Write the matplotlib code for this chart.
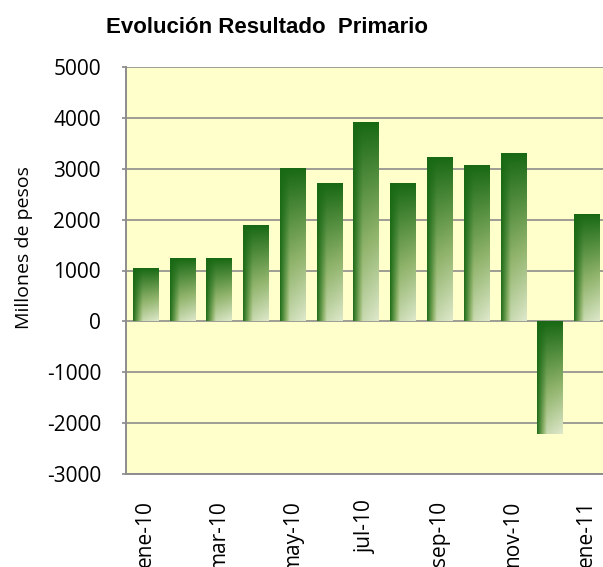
import matplotlib.pyplot as plt
import numpy as np
from matplotlib.colors import LinearSegmentedColormap

# datos
meses = ['ene-10', 'feb-10', 'mar-10', 'abr-10', 'may-10', 'jun-10', 'jul-10',
         'ago-10', 'sep-10', 'oct-10', 'nov-10', 'dic-10', 'ene-11']
resultado = [1030, 1220, 1220, 1880, 2990, 2700, 3900,
             2700, 3210, 3050, 3290, -2220, 2090]
yticks = [-3000, -2000, -1000, 0, 1000, 2000, 3000, 4000, 5000]

verde = LinearSegmentedColormap.from_list(
    'verde', [(0.0, '#196914'), (0.55, '#8fb36a'), (1.0, '#dfe9cc')])


def gradiente(n=200, m=60):
    v = np.linspace(0, 1, n)[:, None]   # 0 arriba, 1 abajo
    u = np.linspace(0, 1, m)[None, :]   # 0 izquierda, 1 derecha
    h = np.clip(0.05 + u * 2.5, 0, 1) * (0.8 + 0.2 * u)
    return v * h


fig = plt.figure(figsize=(6.03, 5.67), dpi=100)
ax = fig.add_axes([126 / 603, 1 - 474 / 567, 480 / 603, 407 / 567])
ax.set_facecolor('#ffffcc')

x = np.arange(len(meses))
barras = ax.bar(x, resultado, width=0.68, color='none', zorder=3)
img = gradiente()
for b in barras:
    x0 = b.get_x()
    x1 = x0 + b.get_width()
    y0 = b.get_y()
    y1 = y0 + b.get_height()
    top, bot = max(y0, y1), min(y0, y1)
    ax.imshow(img, cmap=verde, vmin=0, vmax=1, aspect='auto',
              extent=(x0, x1, bot, top), origin='upper', zorder=3,
              interpolation='bilinear')

ax.set_xlim(-0.525, len(meses) - 0.475)
ax.set_ylim(-3000, 5000)
ax.set_yticks(yticks)
ax.set_yticklabels([str(t) for t in yticks], fontsize=15, family='Open Sans')
ax.set_xticks(x[::2])
ax.set_xticklabels(meses[::2], rotation=90, fontsize=15, family='Open Sans',
                   va='top', ha='center')
ax.tick_params(axis='x', length=0, pad=19)
ax.tick_params(axis='y', length=3, color='#888888', width=1.2, pad=15)
ax.grid(axis='y', color='#8c8c8c', linewidth=1.2, zorder=1)
ax.set_axisbelow(True)
for s in ['top', 'right']:
    ax.spines[s].set_visible(False)
for s in ['left', 'bottom']:
    ax.spines[s].set_color('#8c8c8c')
    ax.spines[s].set_linewidth(1.4)

fig.text(24 / 603, 1 - 248 / 567, 'Millones de pesos', rotation=90,
         fontsize=14, family='Open Sans', ha='center', va='center')
fig.text(267.5 / 603, 1 - 27.5 / 567, 'Evolución Resultado  Primario',
         fontsize=16, fontweight='bold', family='Liberation Sans',
         ha='center', va='center')

fig.savefig('out.png', dpi=100)
